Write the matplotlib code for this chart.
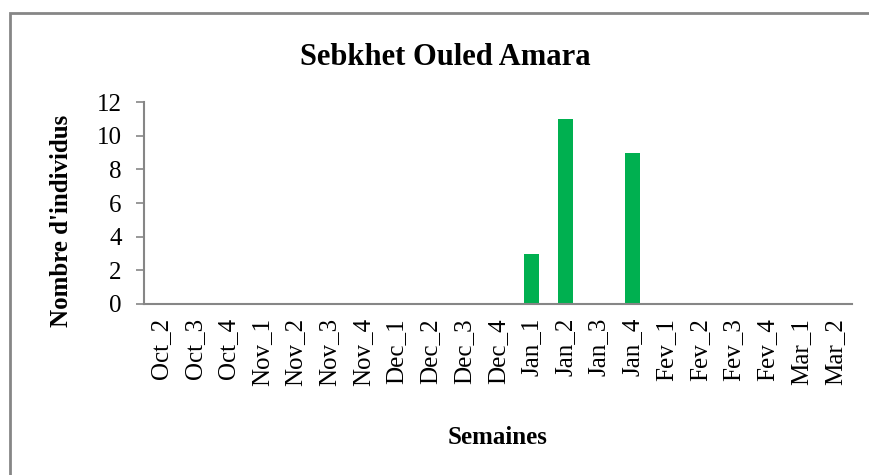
import matplotlib.pyplot as plt
from matplotlib.patches import Rectangle
import numpy as np

plt.rcParams['font.family'] = ['Liberation Serif', 'DejaVu Serif']

semaines = ['Oct_2', 'Oct_3', 'Oct_4', 'Nov_1', 'Nov_2', 'Nov_3', 'Nov_4',
            'Dec_1', 'Dec_2', 'Dec_3', 'Dec_4', 'Jan_1', 'Jan_2', 'Jan_3',
            'Jan_4', 'Fev_1', 'Fev_2', 'Fev_3', 'Fev_4', 'Mar_1', 'Mar_2']
individus = [0, 0, 0, 0, 0, 0, 0, 0, 0, 0, 0, 3, 11, 0, 9, 0, 0, 0, 0, 0, 0]
yticks = [0, 2, 4, 6, 8, 10, 12]

fig = plt.figure(figsize=(8.69, 4.75), dpi=100)
ax = fig.add_axes([0.1657, 0.36, 0.8143, 0.425])

x = np.arange(len(semaines))
ax.bar(x, individus, width=0.45, color='#00B050')

ax.set_xlim(-0.5, len(semaines) - 0.5)
ax.set_ylim(0, 12)
ax.set_yticks(yticks)
ax.set_xticks(x)
ax.set_xticklabels(semaines, rotation=90, fontsize=18)
ax.tick_params(axis='y', labelsize=18, length=6, width=1.2, color='#868686', pad=10)
ax.tick_params(axis='x', length=0, pad=10)

for side in ['top', 'right']:
    ax.spines[side].set_visible(False)
for side in ['left', 'bottom']:
    ax.spines[side].set_color('#868686')
    ax.spines[side].set_linewidth(1.5)

fig.text(0.512, 0.878, 'Sebkhet Ouled Amara', ha='center', va='center',
         fontsize=22, fontweight='bold')
fig.text(0.572, 0.08, 'Semaines', ha='center', va='center',
         fontsize=18, fontweight='bold')
fig.text(0.071, 0.535, "Nombre d'individus", ha='center', va='center',
         rotation=90, fontsize=18, fontweight='bold')

# chart frame
fig.patches.append(Rectangle((9.5 / 869, -0.05), 1.0, 1.05 - 12.5 / 475,
                             transform=fig.transFigure, fill=False,
                             edgecolor='#868686', linewidth=2))

fig.savefig('out.png', dpi=100)
